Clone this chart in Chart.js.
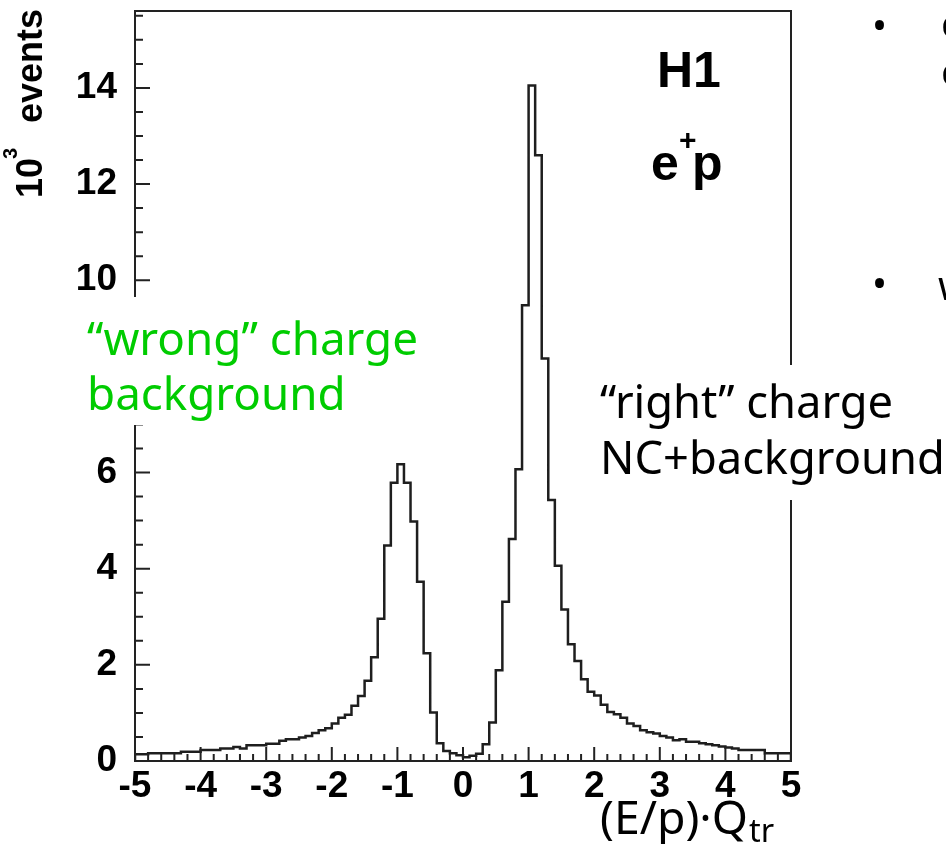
<!DOCTYPE html>
<html>
<head>
<meta charset="utf-8">
<script src="https://cdn.jsdelivr.net/npm/chart.js@4.4.1/dist/chart.umd.min.js"></script>
<style>
  html, body { margin: 0; padding: 0; background: #fff; }
  #wrap { width: 946px; height: 844px; }
</style>
</head>
<body>
<div id="wrap"><canvas id="hist" width="946" height="844"></canvas></div>
<script>
// histogram of (E/p)*Q_tr, 100 bins of 0.1 from -5 to 5, in 10^3 events
const binLow = -5;
const binWidth = 0.1;
const counts = [
  0.14, 0.14, 0.16, 0.16, 0.16, 0.16, 0.16, 0.19, 0.19, 0.19,
  0.23, 0.23, 0.23, 0.26, 0.26, 0.29, 0.26, 0.33, 0.33, 0.33,
  0.36, 0.36, 0.42, 0.45, 0.45, 0.49, 0.52, 0.58, 0.64, 0.68,
  0.78, 0.90, 0.96, 1.15, 1.35, 1.67, 2.16, 2.96, 4.48, 5.79,
  6.17, 5.79, 4.98, 3.73, 2.24, 1.01, 0.37, 0.21, 0.16, 0.12,
  0.08, 0.11, 0.15, 0.35, 0.80, 1.89, 3.31, 4.62, 6.07, 9.48,
  14.05, 12.6, 8.37, 5.43, 4.06, 3.15, 2.43, 2.08, 1.70, 1.44,
  1.36, 1.17, 1.02, 0.97, 0.90, 0.78, 0.73, 0.64, 0.60, 0.57,
  0.52, 0.49, 0.43, 0.45, 0.40, 0.40, 0.37, 0.35, 0.33, 0.30,
  0.28, 0.26, 0.23, 0.23, 0.23, 0.23, 0.16, 0.16, 0.16, 0.16
];
const xTicks = [-5, -4, -3, -2, -1, 0, 1, 2, 3, 4, 5];
const yTicks = [0, 2, 4, 6, 8, 10, 12, 14];
const xMinorStep = 0.2;
const yMinorStep = 0.5;

const tickFont = "Liberation Sans, Arial, Helvetica, sans-serif";
const handFont = "\"Comic Sans MS\", \"Noto Sans\", sans-serif";

function histPoints() {
  const pts = [{ x: binLow, y: 0 }];
  counts.forEach((c, i) => pts.push({ x: binLow + i * binWidth, y: c }));
  const end = binLow + counts.length * binWidth;
  pts.push({ x: end, y: counts[counts.length - 1] });
  pts.push({ x: end, y: 0 });
  return pts;
}

// font size so that text spans the given width
function fitSize(ctx, text, width, size) {
  ctx.font = `${size}px ${handFont}`;
  return size * width / ctx.measureText(text).width;
}

function noPad(s) {
  s.paddingTop = 0;
  s.paddingBottom = 0;
  s.paddingLeft = 0;
  s.paddingRight = 0;
}

const decor = {
  id: "decor",
  afterDatasetsDraw(chart) {
    const { ctx, chartArea: a, scales: { x, y } } = chart;
    ctx.save();
    ctx.strokeStyle = "#222";
    ctx.lineWidth = 2;
    ctx.beginPath();
    const nx = Math.round((x.max - x.min) / xMinorStep);
    for (let k = 0; k <= nx; k++) {
      const v = x.min + k * xMinorStep;
      const major = Math.abs(v - Math.round(v)) < 1e-6;
      const px = x.getPixelForValue(v);
      ctx.moveTo(px, a.bottom);
      ctx.lineTo(px, a.bottom - (major ? 14 : 7));
    }
    for (let k = 0; k * yMinorStep <= y.max; k++) {
      const v = k * yMinorStep;
      const major = v % 2 === 0;
      const py = y.getPixelForValue(v);
      ctx.moveTo(a.left, py);
      ctx.lineTo(a.left + (major ? 15 : 8), py);
    }
    ctx.stroke();
    ctx.strokeRect(a.left, a.top, a.right - a.left, a.bottom - a.top);
    ctx.restore();
  },
  afterDraw(chart) {
    const { ctx } = chart;
    ctx.save();
    ctx.textBaseline = "alphabetic";
    ctx.textAlign = "left";

    // y title, rotated
    ctx.save();
    ctx.translate(42, 198);
    ctx.rotate(-Math.PI / 2);
    ctx.fillStyle = "#000";
    ctx.font = `bold 36px ${tickFont}`;
    ctx.fillText("10", 0, 0);
    ctx.font = `bold 20px ${tickFont}`;
    ctx.fillText("3", 39, -25);
    ctx.font = `bold 36px ${tickFont}`;
    ctx.fillText("events", 75, 0);
    ctx.restore();

    // H1 / e+p
    ctx.fillStyle = "#000";
    ctx.font = `bold 50px ${tickFont}`;
    ctx.fillText("H1", 657, 87);
    ctx.fillText("e", 651, 180);
    ctx.font = `bold 30px ${tickFont}`;
    ctx.fillText("+", 679, 150);
    ctx.font = `bold 50px ${tickFont}`;
    ctx.fillText("p", 692, 180);

    // white label boxes
    ctx.fillStyle = "#fff";
    ctx.fillRect(75, 297, 358, 128);
    ctx.fillRect(590, 365, 356, 135);
    ctx.fillRect(610, 802, 175, 42);

    ctx.fillStyle = "#00cc00";
    const gs = fitSize(ctx, "\u201cwrong\u201d charge", 331, 44);
    ctx.font = `${gs}px ${handFont}`;
    ctx.fillText("\u201cwrong\u201d charge", 87, 355);
    ctx.fillText("background", 87, 410);

    ctx.fillStyle = "#000";
    const rs = fitSize(ctx, "NC+background", 345, 44);
    ctx.font = `${rs}px ${handFont}`;
    ctx.fillText("\u201cright\u201d charge", 600, 418);
    ctx.fillText("NC+background", 600, 474);

    // x title (E/p)·Q_tr
    const xs = fitSize(ctx, "(E/p)\u00b7Q", 148, 40);
    ctx.font = `${xs}px ${handFont}`;
    ctx.fillText("(E/p)\u00b7Q", 600, 834);
    ctx.font = `${xs * 0.7}px ${handFont}`;
    ctx.fillText("tr", 749, 842);

    // bullets of the slide text, cut by the right edge
    ctx.font = `40px ${handFont}`;
    ctx.fillText("\u2022", 872, 40);
    ctx.fillText("\u2022", 872, 298);
    ctx.fillText("c", 941, 38);
    ctx.fillText("c", 941, 86);
    ctx.fillText("w", 938, 300);
    ctx.restore();
  }
};

new Chart(document.getElementById("hist"), {
  type: "line",
  data: {
    datasets: [{
      data: histPoints(),
      stepped: true,
      borderColor: "#1e1e1e",
      borderWidth: 2.5,
      pointRadius: 0,
      fill: false
    }]
  },
  options: {
    responsive: false,
    animation: false,
    layout: { padding: { top: 11, right: 155, left: 0, bottom: 0 } },
    plugins: { legend: { display: false }, tooltip: { enabled: false } },
    scales: {
      x: {
        type: "linear",
        min: -5,
        max: 5,
        grid: { display: false, drawTicks: false },
        border: { display: false },
        afterBuildTicks: (s) => { s.ticks = xTicks.map((v) => ({ value: v })); },
        afterFit: (s) => { s.height = 83; noPad(s); },
        ticks: {
          color: "#000",
          padding: 4,
          maxRotation: 0,
          autoSkip: false,
          font: { family: tickFont, size: 37, weight: "bold" }
        }
      },
      y: {
        min: 0,
        max: 15.6,
        grid: { display: false, drawTicks: false },
        border: { display: false },
        afterBuildTicks: (s) => { s.ticks = yTicks.map((v) => ({ value: v })); },
        afterFit: (s) => { s.width = 135; noPad(s); },
        ticks: {
          color: "#000",
          padding: 18,
          font: { family: tickFont, size: 37, weight: "bold" }
        }
      }
    }
  },
  plugins: [decor]
});
</script>
</body>
</html>
